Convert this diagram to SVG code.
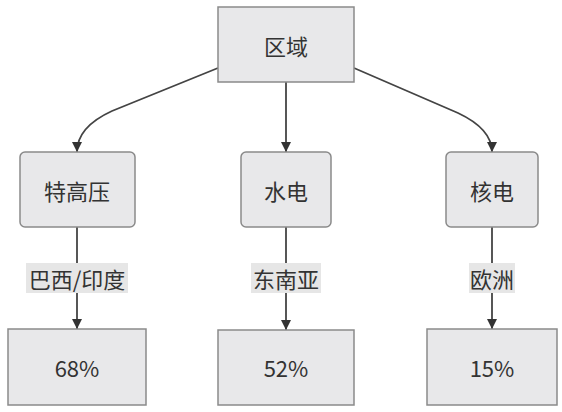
<svg xmlns="http://www.w3.org/2000/svg" width="562" height="412" viewBox="0 0 562 412">
<defs>
<marker id="arr" viewBox="0 0 10 10" refX="10" refY="5" markerWidth="10" markerHeight="10" markerUnits="userSpaceOnUse" orient="auto">
<path d="M0,0 L10,5 L0,10 z" fill="#333"/>
</marker>
<style>
.node{fill:#e8e8ea;stroke:#8a8a8a;stroke-width:1.5}
.t{font-family:"Noto Sans CJK SC","Noto Sans",sans-serif;font-size:22px;fill:#333;text-anchor:middle;dominant-baseline:central}
.edge{fill:none;stroke:#444;stroke-width:1.8}
.lbg{fill:#e6e6e6}
</style>
</defs>
<rect width="562" height="412" fill="#fff"/>
<g id="connectors">
<path class="edge" d="M218,68 L112,111 Q77,127 77,152" marker-end="url(#arr)"/>
<path class="edge" d="M286,82 L286,152" marker-end="url(#arr)"/>
<path class="edge" d="M354,68 L458,113 Q492,129 492,152" marker-end="url(#arr)"/>
<path class="edge" d="M77,227 L77,329" marker-end="url(#arr)"/>
<path class="edge" d="M286,227 L286,330" marker-end="url(#arr)"/>
<path class="edge" d="M492,227 L492,329" marker-end="url(#arr)"/>
<g id="label-brazil">
<rect class="lbg" x="26" y="263" width="102" height="30"/>
<text class="t" x="77" y="278">巴西/印度</text>
</g>
<g id="label-sea">
<rect class="lbg" x="251" y="263" width="70" height="30"/>
<text class="t" x="286" y="278">东南亚</text>
</g>
<g id="label-eu">
<rect class="lbg" x="469" y="263" width="46" height="30"/>
<text class="t" x="492" y="278">欧洲</text>
</g>
</g>
<g id="region">
<rect class="node" x="218" y="7" width="136" height="75"/>
<text class="t" x="286" y="45">区域</text>
</g>
<g id="uhv">
<rect class="node" x="20" y="152" width="115" height="75" rx="5"/>
<text class="t" x="77" y="190">特高压</text>
</g>
<g id="hydro">
<rect class="node" x="241" y="152" width="90" height="75" rx="5"/>
<text class="t" x="286" y="190">水电</text>
</g>
<g id="nuclear">
<rect class="node" x="446" y="152" width="92" height="75" rx="5"/>
<text class="t" x="492" y="190">核电</text>
</g>
<g id="p68">
<rect class="node" x="8" y="329" width="138" height="76"/>
<text class="t" x="77" y="367">68%</text>
</g>
<g id="p52">
<rect class="node" x="218" y="330" width="136" height="75"/>
<text class="t" x="286" y="367">52%</text>
</g>
<g id="p15">
<rect class="node" x="427" y="329" width="130" height="76"/>
<text class="t" x="492" y="367">15%</text>
</g>
</svg>
